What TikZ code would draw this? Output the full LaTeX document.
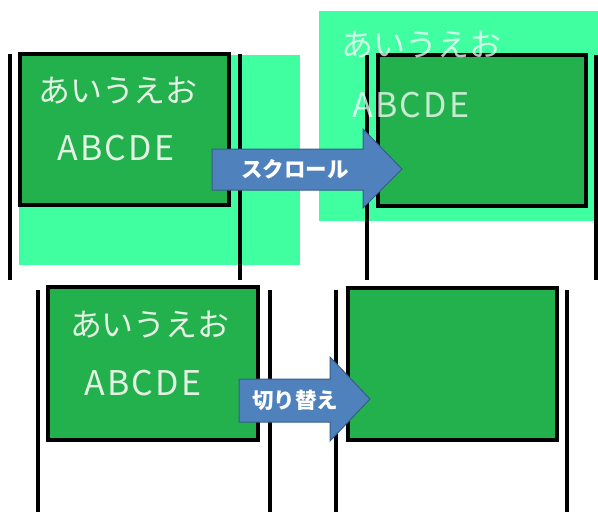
\documentclass[tikz,border=0pt]{standalone}
\usepackage{fontspec}
\newfontfamily\jp{Noto Sans CJK JP}
\newfontfamily\jpwide{Noto Sans CJK JP}[LetterSpace=6]
\definecolor{board}{RGB}{34,177,76}
\definecolor{mint}{RGB}{64,255,160}
\definecolor{arrowfill}{RGB}{79,129,189}
\definecolor{arrowedge}{RGB}{56,93,138}
\definecolor{chalk}{RGB}{228,242,228}
\tikzset{
  screen/.style={fill=mint, draw=none, anchor=north west, inner sep=0pt, outer sep=0pt},
  boardbox/.style={fill=board, draw=black, line width=3.5pt, anchor=north west, inner sep=0pt, outer sep=0pt},
  rail/.style={draw=black, line width=3.5pt},
  kana/.style={text=chalk, font=\jp\fontsize{32pt}{34pt}\selectfont, inner sep=0pt},
  latin/.style={text=chalk, font=\jpwide\fontsize{34pt}{36pt}\selectfont, inner sep=0pt},
  blockarrow/.style={fill=arrowfill, draw=arrowedge, line width=1pt, line join=miter},
  arrowlabel/.style={text=white, font=\jp\bfseries\fontsize{21.5pt}{23pt}\selectfont, inner sep=0pt},
}
\begin{document}
\begin{tikzpicture}[x=1pt, y=-1pt]
\useasboundingbox (0,0) rectangle (598,512);

% --- before scrolling ---
\node[screen, minimum width=281pt, minimum height=210pt] (view1) at (19,55) {};
\node[boardbox, minimum width=209pt, minimum height=151pt] (board1) at (20,54) {};
\node[kana] (kana1) at (118,91) {あいうえお};
\node[latin] (abc1) at (116,148) {ABCDE};
\coordinate (l1t) at (10,54);  \coordinate (l1b) at (10,280);
\coordinate (r1t) at (240,54); \coordinate (r1b) at (240,280);
\draw[rail] (l1t) -- (l1b);
\draw[rail] (r1t) -- (r1b);

% --- after scrolling ---
\node[screen, minimum width=279pt, minimum height=210pt] (view2) at (319,11) {};
\node[boardbox, minimum width=208pt, minimum height=151pt] (board2) at (378,55) {};
\coordinate (l2t) at (367,55);  \coordinate (l2b) at (367,280);
\coordinate (r2t) at (596,55); \coordinate (r2b) at (596,280);
\draw[rail] (l2t) -- (l2b);
\draw[rail] (r2t) -- (r2b);
\node[kana, text opacity=0.75, text=white] (kana2) at (421,45) {あいうえお};
\node[latin, text opacity=0.75, text=white] (abc2) at (411,105) {ABCDE};

% scroll arrow
\draw[blockarrow] (212,149) -- (363,149) -- (363,129) -- (402,169) -- (363,208) -- (363,190) -- (212,190) -- cycle;
\node[arrowlabel] (scroll) at (295,169) {スクロール};

% --- before switching ---
\node[boardbox, minimum width=210pt, minimum height=153pt] (board3) at (48,287) {};
\node[kana] (kana3) at (150,325) {あいうえお};
\node[latin] (abc3) at (143,383) {ABCDE};
\coordinate (l3t) at (38,290);  \coordinate (l3b) at (38,512);
\coordinate (r3t) at (270,290); \coordinate (r3b) at (270,512);
\draw[rail] (l3t) -- (l3b);
\draw[rail] (r3t) -- (r3b);

% --- after switching ---
\node[boardbox, minimum width=209pt, minimum height=152pt] (board4) at (348,288) {};
\coordinate (l4t) at (336,290);  \coordinate (l4b) at (336,512);
\coordinate (r4t) at (567,290); \coordinate (r4b) at (567,512);
\draw[rail] (l4t) -- (l4b);
\draw[rail] (r4t) -- (r4b);

% switch arrow
\draw[blockarrow] (239,379) -- (330,379) -- (330,357) -- (370,399) -- (330,441) -- (330,422) -- (239,422) -- cycle;
\node[arrowlabel] (switch) at (295,400) {切り替え};
\end{tikzpicture}
\end{document}
